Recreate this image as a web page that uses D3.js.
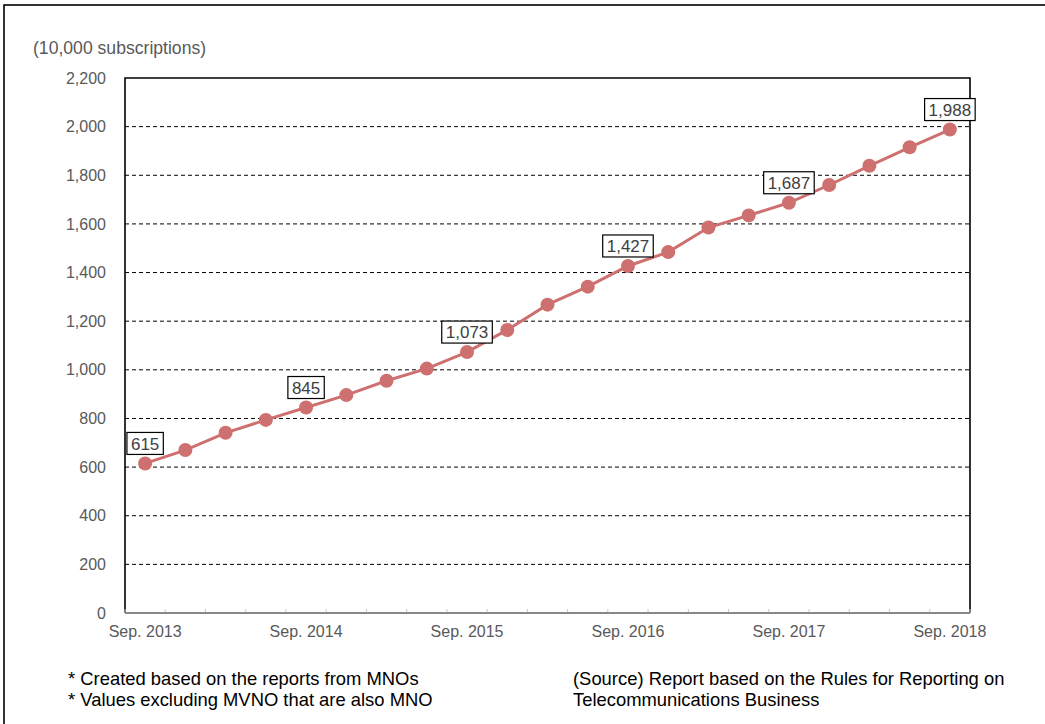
<!DOCTYPE html>
<html>
<head>
<meta charset="utf-8">
<script src="https://cdn.jsdelivr.net/npm/d3@7"></script>
<style>
  html, body { margin: 0; padding: 0; background: #fff; }
  svg { display: block; font-family: "Liberation Sans", Arial, sans-serif; }
</style>
</head>
<body>
<svg id="chart" width="1045" height="724"></svg>
<script>
// Quarterly periods, Sep. 2013 – Sep. 2018
const periods = [
  "Sep. 2013", "Dec. 2013", "Mar. 2014", "Jun. 2014",
  "Sep. 2014", "Dec. 2014", "Mar. 2015", "Jun. 2015",
  "Sep. 2015", "Dec. 2015", "Mar. 2016", "Jun. 2016",
  "Sep. 2016", "Dec. 2016", "Mar. 2017", "Jun. 2017",
  "Sep. 2017", "Dec. 2017", "Mar. 2018", "Jun. 2018",
  "Sep. 2018"
];

// Subscriptions (10,000 units)
const subscriptions = [
  615, 670, 741, 794,
  845, 896, 955, 1005,
  1073, 1164, 1268, 1342,
  1427, 1484, 1585, 1635,
  1687, 1760, 1839, 1915,
  1988
];

// Periods that get an axis label and a value callout
const labeledPeriods = ["Sep. 2013", "Sep. 2014", "Sep. 2015", "Sep. 2016", "Sep. 2017", "Sep. 2018"];

const yTicks = [0, 200, 400, 600, 800, 1000, 1200, 1400, 1600, 1800, 2000, 2200];

const unitLabel = "(10,000 subscriptions)";
const notesLeft = ["* Created based on the reports from MNOs", "* Values excluding MVNO that are also MNO"];
const notesRight = ["(Source) Report based on the Rules for Reporting on", "Telecommunications Business"];

const svg = d3.select("#chart");
const plot = { left: 125, right: 970, top: 78, bottom: 613 };
const lineColor = "#cf7070";
const fmt = d3.format(",");
const tickFont = 16;

// Outer frame (open on right/bottom, running off the canvas)
svg.append("rect")
  .attr("x", 4).attr("y", 5)
  .attr("width", 1100).attr("height", 800)
  .attr("fill", "none").attr("stroke", "#000").attr("stroke-width", 1.6);

const x = d3.scaleBand().domain(periods).range([plot.left, plot.right]).padding(0);
const y = d3.scaleLinear().domain([0, 2200]).range([plot.bottom, plot.top]);
const cx = d => x(d) + x.bandwidth() / 2;

// Dashed horizontal gridlines
svg.append("g")
  .selectAll("line")
  .data(yTicks.filter(v => v > 0 && v < 2200))
  .join("line")
  .attr("x1", plot.left).attr("x2", plot.right)
  .attr("y1", d => y(d)).attr("y2", d => y(d))
  .attr("stroke", "#000").attr("stroke-width", 1)
  .attr("stroke-dasharray", "4,3");

// Y axis labels
const yAxis = svg.append("g")
  .attr("transform", `translate(${plot.left},0)`)
  .call(d3.axisLeft(y).tickValues(yTicks).tickFormat(fmt).tickSize(0).tickPadding(19));
yAxis.select(".domain").remove();
yAxis.selectAll("text")
  .attr("fill", "#595959").attr("font-size", tickFont)
  .attr("font-family", "'Liberation Sans', Arial, sans-serif");

// Plot border: top, left and right black
svg.append("path")
  .attr("d", `M${plot.left},${plot.bottom}V${plot.top}H${plot.right}V${plot.bottom}`)
  .attr("fill", "none").attr("stroke", "#000").attr("stroke-width", 1.6);

// X axis: grey baseline with inward ticks at category boundaries
const boundaries = periods.map(p => x(p)).concat([plot.right]);
svg.append("g")
  .selectAll("line")
  .data(boundaries)
  .join("line")
  .attr("x1", d => d).attr("x2", d => d)
  .attr("y1", plot.bottom).attr("y2", plot.bottom - 4)
  .attr("stroke", "#c8c8c8").attr("stroke-width", 1);

svg.append("line")
  .attr("x1", plot.left).attr("x2", plot.right)
  .attr("y1", plot.bottom).attr("y2", plot.bottom)
  .attr("stroke", "#888").attr("stroke-width", 2);

const xAxis = svg.append("g")
  .attr("transform", `translate(0,${plot.bottom})`)
  .call(d3.axisBottom(x).tickValues(labeledPeriods).tickSize(0).tickPadding(12.5));
xAxis.select(".domain").remove();
xAxis.selectAll("text")
  .attr("fill", "#595959").attr("font-size", tickFont)
  .attr("font-family", "'Liberation Sans', Arial, sans-serif");

// Unit label
svg.append("text")
  .attr("x", 33).attr("y", 54)
  .attr("fill", "#595959").attr("font-size", 17.6)
  .text(unitLabel);

// Line and markers
const data = periods.map((p, i) => ({ period: p, value: subscriptions[i] }));
svg.append("path")
  .datum(data)
  .attr("fill", "none")
  .attr("stroke", lineColor).attr("stroke-width", 3)
  .attr("d", d3.line().x(d => cx(d.period)).y(d => y(d.value)));

svg.append("g")
  .selectAll("circle")
  .data(data)
  .join("circle")
  .attr("cx", d => cx(d.period)).attr("cy", d => y(d.value))
  .attr("r", 7)
  .attr("fill", lineColor);

// Value callouts
const callouts = svg.append("g")
  .selectAll("g")
  .data(data.filter(d => labeledPeriods.includes(d.period)))
  .join("g")
  .attr("transform", d => `translate(${cx(d.period)},${y(d.value) - 20})`);

callouts.append("text")
  .attr("text-anchor", "middle")
  .attr("dy", "0.36em")
  .attr("fill", "#404040").attr("font-size", 17)
  .text(d => fmt(d.value))
  .each(function () {
    const bb = this.getBBox();
    d3.select(this.parentNode).insert("rect", "text")
      .attr("x", bb.x - 4).attr("y", -11)
      .attr("width", bb.width + 8).attr("height", 22)
      .attr("fill", "#fff").attr("stroke", "#000").attr("stroke-width", 1.2);
  });

// Footnotes
const noteFont = 18.4;
svg.append("g").selectAll("text").data(notesLeft).join("text")
  .attr("x", 68).attr("y", (d, i) => 685 + i * 21)
  .attr("font-size", noteFont).attr("fill", "#000").text(d => d);
svg.append("g").selectAll("text").data(notesRight).join("text")
  .attr("x", 573).attr("y", (d, i) => 685 + i * 21)
  .attr("font-size", noteFont).attr("fill", "#000").text(d => d);
</script>
</body>
</html>
